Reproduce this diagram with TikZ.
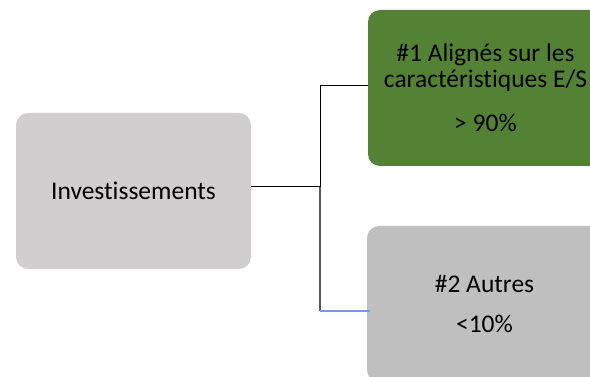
\documentclass[tikz,border=0pt]{standalone}
\usepackage{fontspec}
\setmainfont[Ligatures={NoCommon}]{Carlito}
\definecolor{boxgrey}{HTML}{D0CECE}
\definecolor{boxgreen}{HTML}{548235}
\definecolor{boxsilver}{HTML}{BFBFBF}
\definecolor{linkblue}{HTML}{7A9BD8}
\definecolor{linkgrey}{HTML}{595959}
\tikzset{
  box/.style={rounded corners=12pt, minimum width=235pt, minimum height=156pt,
    inner sep=0pt, align=center, font=\fontsize{25.5}{26}\selectfont, text=black},
  link/.style={line width=1pt, draw=black},
}
\begin{document}
\begin{tikzpicture}[x=1pt,y=-1pt]
\useasboundingbox (0,0) rectangle (590,377);
\fill[white] (0,0) rectangle (590,377);
\node[box, fill=boxgrey] (inv) at (133.5,191) {Investissements};
\node[box, fill=boxgreen] (al) at (485.5,88) {\#1 Alignés sur les\\caractéristiques E/S\\[18pt]> 90\%};
\node[box, fill=boxsilver] (au) at (484.5,304) {\#2 Autres\\[14pt]<10\%};
\coordinate (j) at (320,187);
\coordinate (t) at (320,86);
\coordinate (b) at (320,311);
\draw[link] (inv.east |- j) -- (j);
\draw[link] (j) -- (t) -- (al.west |- t);
\draw[line width=1.5pt, draw=linkgrey] (j) -- (b);
\draw[line width=1.2pt, draw=linkblue] (b) -- ([xshift=3pt]au.west |- b);
\end{tikzpicture}
\end{document}
